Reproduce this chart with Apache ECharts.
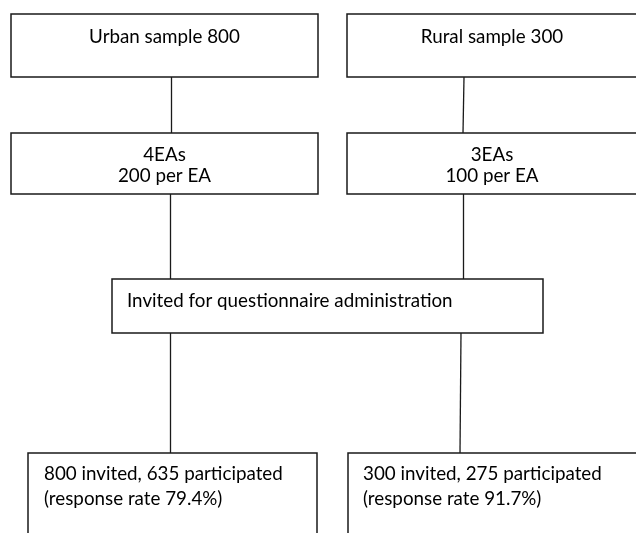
<!DOCTYPE html>
<html>
<head>
<meta charset="utf-8">
<script src="https://cdn.jsdelivr.net/npm/echarts@6/dist/echarts.min.js"></script>
<style>
html,body{margin:0;padding:0;background:#fff;}
#chart{width:636px;height:533px;}
</style>
</head>
<body>
<div id="chart"></div>
<script>
// Flowchart content
const boxTexts = [
  ['Urban sample 800'],
  ['Rural sample 300'],
  ['4EAs', '200 per EA'],
  ['3EAs', '100 per EA'],
  ['Invited for questionnaire administration'],
  ['800 invited, 635 participated', '(response rate 79.4%)'],
  ['300 invited, 275 participated', '(response rate 91.7%)']
];
// box layout in diagram units (x0, x1, y0, y1)
const boxX0 = [11, 347, 11, 347, 112, 28, 348];
const boxX1 = [318, 638, 318, 638, 543, 317, 640];
const boxY0 = [14, 14, 133, 133, 279, 453, 453];
const boxY1 = [77, 77, 194, 194, 333, 560, 560];
// text anchor: 'center' or left
const textAlign = ['center', 'center', 'center', 'center', 'left', 'left', 'left'];
const textX = [164.5, 492, 164.5, 492, 127, 44, 363];
const textY = [[37], [37], [155, 176], [155, 176], [301], [474, 499], [474, 499]];

// connectors (x0, y0, x1, y1)
const connX0 = [171, 464, 170, 463, 170, 461];
const connY0 = [77, 77, 194, 194, 333, 333];
const connX1 = [171, 463, 170, 463, 170, 460];
const connY1 = [133, 133, 279, 279, 453, 453];

const boxData = boxTexts.map((t, i) => [boxX0[i], boxX1[i], boxY0[i], boxY1[i], i]);
const connData = connX0.map((x, i) => ({coords: [[x, connY0[i]], [connX1[i], connY1[i]]]}));

const FONT = 'Lato, "Open Sans", sans-serif';

const chart = echarts.init(document.getElementById('chart'));
chart.setOption({
  animation: false,
  backgroundColor: '#ffffff',
  grid: {left: 0, right: 0, top: 0, bottom: 0},
  xAxis: {type: 'value', min: 0, max: 636, show: false},
  yAxis: {type: 'value', min: 0, max: 533, inverse: true, show: false},
  series: [
    {
      type: 'lines',
      coordinateSystem: 'cartesian2d',
      silent: true,
      lineStyle: {color: '#1a1a1a', width: 1.3, opacity: 1},
      data: connData,
      z: 1
    },
    {
      type: 'custom',
      coordinateSystem: 'cartesian2d',
      silent: true,
      data: boxData,
      encode: {x: [0, 1], y: [2, 3]},
      z: 2,
      renderItem: function (params, api) {
        const i = api.value(4);
        const p0 = api.coord([api.value(0), api.value(2)]);
        const p1 = api.coord([api.value(1), api.value(3)]);
        const children = [{
          type: 'rect',
          shape: {x: p0[0], y: p0[1], width: p1[0] - p0[0], height: p1[1] - p0[1]},
          style: {fill: '#ffffff', stroke: '#1a1a1a', lineWidth: 1.5}
        }];
        boxTexts[i].forEach(function (line, k) {
          const pt = api.coord([textX[i], textY[i][k]]);
          children.push({
            type: 'text',
            style: {
              text: line,
              x: pt[0], y: pt[1],
              align: textAlign[i],
              verticalAlign: 'middle',
              fill: '#000000',
              font: '18.8px ' + FONT
            }
          });
        });
        return {type: 'group', children: children};
      }
    }
  ]
});
</script>
</body>
</html>
